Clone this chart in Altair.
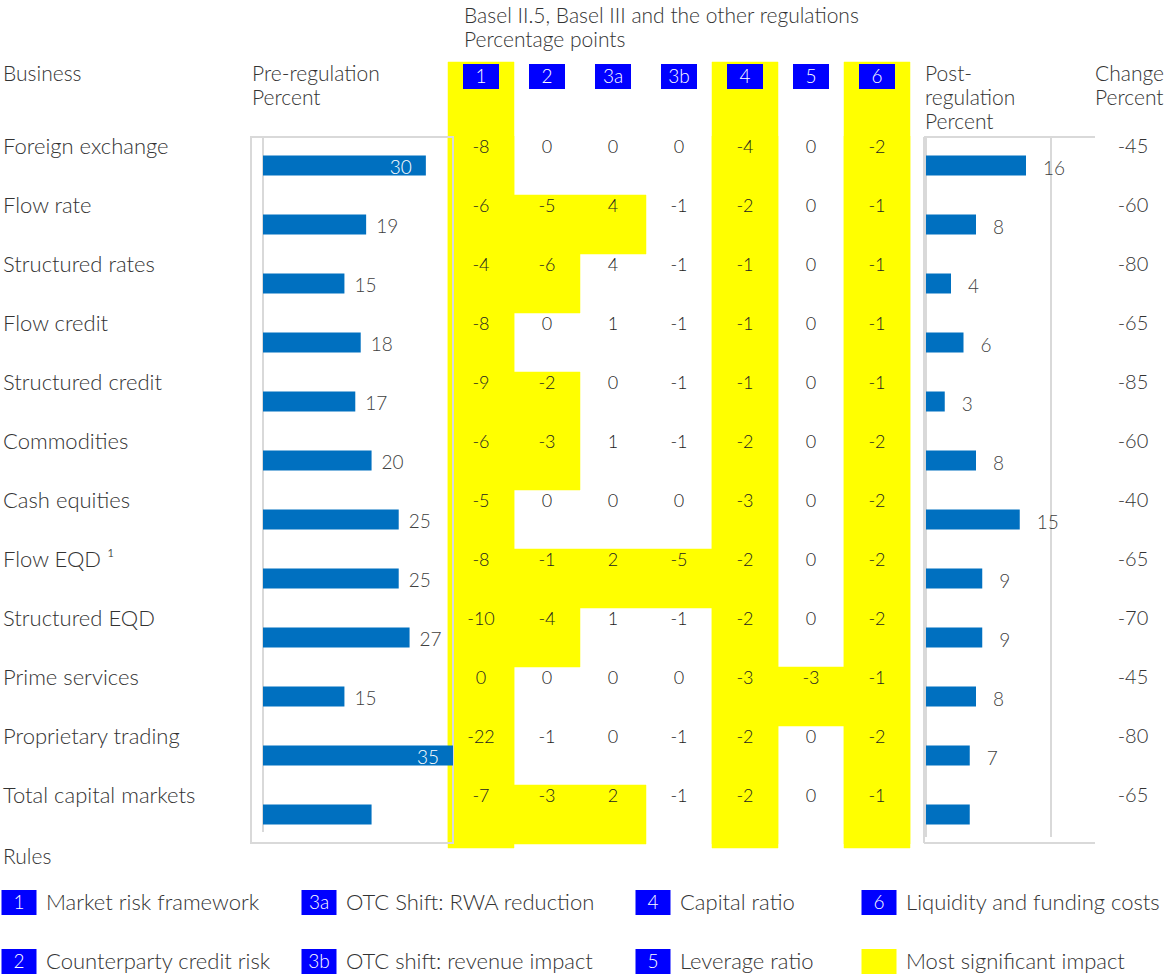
import altair as alt
import pandas as pd

# ---------------- data ----------------
businesses = [
    "Foreign exchange", "Flow rate", "Structured rates", "Flow credit",
    "Structured credit", "Commodities", "Cash equities", "Flow EQD \u00b9",
    "Structured EQD", "Prime services", "Proprietary trading",
    "Total capital markets",
]
pre_regulation = [30, 19, 15, 18, 17, 20, 25, 25, 27, 15, 35, 20]
post_regulation = [16, 8, 4, 6, 3, 8, 15, 9, 9, 8, 7, 7]
change_pct = [-45, -60, -80, -65, -85, -60, -40, -65, -70, -45, -80, -65]
show_label = [True] * 11 + [False]

rules = ["1", "2", "3a", "3b", "4", "5", "6"]
impact = [
    [-8, 0, 0, 0, -4, 0, -2],
    [-6, -5, 4, -1, -2, 0, -1],
    [-4, -6, 4, -1, -1, 0, -1],
    [-8, 0, 1, -1, -1, 0, -1],
    [-9, -2, 0, -1, -1, 0, -1],
    [-6, -3, 1, -1, -2, 0, -2],
    [-5, 0, 0, 0, -3, 0, -2],
    [-8, -1, 2, -5, -2, 0, -2],
    [-10, -4, 1, -1, -2, 0, -2],
    [0, 0, 0, 0, -3, -3, -1],
    [-22, -1, 0, -1, -2, 0, -2],
    [-7, -3, 2, -1, -2, 0, -1],
]
most_significant = [
    [1, 0, 0, 0, 1, 0, 1],
    [1, 1, 1, 0, 1, 0, 1],
    [1, 1, 0, 0, 1, 0, 1],
    [1, 0, 0, 0, 1, 0, 1],
    [1, 1, 0, 0, 1, 0, 1],
    [1, 1, 0, 0, 1, 0, 1],
    [1, 0, 0, 0, 1, 0, 1],
    [1, 1, 1, 1, 1, 0, 1],
    [1, 1, 0, 0, 1, 0, 1],
    [1, 0, 0, 0, 1, 1, 1],
    [1, 0, 0, 0, 1, 0, 1],
    [1, 1, 1, 0, 1, 0, 1],
]

legend_codes = ["1", "3a", "4", "6", "2", "3b", "5", ""]
legend_labels = [
    "Market risk framework", "OTC Shift: RWA reduction", "Capital ratio",
    "Liquidity and funding costs", "Counterparty credit risk",
    "OTC shift: revenue impact", "Leverage ratio", "Most significant impact",
]

# ---------------- styles ----------------
W, H = 1169, 974
FONT = "Lato"
WEIGHT = 300
TEXT = "#333333"
LABEL = "#404040"
BAR = "#0070C0"
BLUE = "#0000FF"
YELLOW = "#FFFF00"
FRAME = "#D9D9D9"

# ---------------- tables ----------------
rows_df = pd.DataFrame({
    "business": businesses,
    "pre": pre_regulation,
    "post": post_regulation,
    "change": [str(c) for c in change_pct],
    "show": show_label,
})
cells = []
for b, vals, hl in zip(businesses, impact, most_significant):
    for r, v, h in zip(rules, vals, hl):
        cells.append({"business": b, "rule": r, "value": str(v), "hl": h})
cells_df = pd.DataFrame(cells)
cols_df = pd.DataFrame({
    "rule": rules,
    "full": [all(row[j] for row in most_significant) for j in range(len(rules))],
})
legend_df = pd.DataFrame({
    "code": legend_codes,
    "label": legend_labels,
    "col": [i % 4 for i in range(len(legend_codes))],
    "row": [i // 4 for i in range(len(legend_codes))],
})
one = pd.DataFrame({"v": [0]})

# ---------------- scales ----------------
row_scale = alt.Scale(domain=businesses, range=[136, 844], paddingInner=0, paddingOuter=0)
bar_scale = alt.Scale(domain=businesses, range=[136, 844], paddingInner=0.661, paddingOuter=0.3305)
col_scale = alt.Scale(domain=rules, range=[448, 910], paddingInner=0, paddingOuter=0)
head_scale = alt.Scale(domain=rules, range=[448, 910], paddingInner=0.4545, paddingOuter=0.2273)
pre_scale = alt.Scale(domain=[0, 35], range=[263, 453], nice=False, zero=True)
post_scale = alt.Scale(domain=[0, 20], range=[926, 1051], nice=False, zero=True)
leg_x = alt.Scale(domain=[0, 1, 2, 3], range=[19, 319, 653, 879], nice=False, zero=False)
leg_y = alt.Scale(domain=[0, 1], range=[902.5, 961.5], nice=False, zero=False)

Y_ROW = alt.Y("business:N", scale=row_scale, axis=None)
Y_BAR = alt.Y("business:N", scale=bar_scale, axis=None)
X_COL = alt.X("rule:N", scale=col_scale, axis=None)

layers = []

# yellow highlights
layers.append(
    alt.Chart(cols_df).transform_filter("datum.full")
    .mark_rect(color=YELLOW, stroke=YELLOW, strokeWidth=0.5)
    .encode(x=X_COL, y=alt.value(62), y2=alt.value(848))
)
layers.append(
    alt.Chart(cells_df).transform_filter("datum.hl == 1")
    .mark_rect(color=YELLOW, stroke=YELLOW, strokeWidth=0.5)
    .encode(x=X_COL, y=Y_ROW)
)
# header boxes
layers.append(
    alt.Chart(cols_df).mark_rect(color=BLUE)
    .encode(x=alt.X("rule:N", scale=head_scale, axis=None), y=alt.value(64), y2=alt.value(89))
)
layers.append(
    alt.Chart(cols_df).mark_text(font=FONT, fontWeight=WEIGHT, fontSize=19, color="white", baseline="middle")
    .encode(x=X_COL, y=alt.value(77), text="rule:N")
)
# table numbers
layers.append(
    alt.Chart(cells_df).mark_text(font=FONT, fontWeight=WEIGHT, fontSize=18, color="#222222", baseline="middle", dy=-17.5)
    .encode(x=X_COL, y=Y_ROW, text="value:N")
)

# left panel frame + axis
layers.append(
    alt.Chart(one).mark_rect(fillOpacity=0, stroke=FRAME, strokeWidth=2)
    .encode(x=alt.value(251), x2=alt.value(453), y=alt.value(137), y2=alt.value(843))
)
layers.append(
    alt.Chart(one).mark_rule(color=FRAME, strokeWidth=2)
    .encode(x=alt.X("v:Q", scale=pre_scale, axis=None), y=alt.value(137), y2=alt.value(832))
)
layers.append(
    alt.Chart(rows_df).mark_bar(color=BAR)
    .encode(x=alt.X("pre:Q", scale=pre_scale, axis=None), y=Y_BAR)
)
layers.append(
    alt.Chart(rows_df).transform_filter("datum.show && datum.pre < 30")
    .mark_text(font=FONT, fontWeight=WEIGHT, fontSize=19, color=LABEL, align="left", baseline="middle", dx=10, dy=2)
    .encode(x=alt.X("pre:Q", scale=pre_scale, axis=None), y=Y_BAR, text="pre:Q")
)
layers.append(
    alt.Chart(rows_df).transform_filter("datum.show && datum.pre >= 30")
    .mark_text(font=FONT, fontWeight=WEIGHT, fontSize=19, color="white", align="right", baseline="middle", dx=-14, dy=2)
    .encode(x=alt.X("pre:Q", scale=pre_scale, axis=None), y=Y_BAR, text="pre:Q")
)

# right panel frame + grid
right_lines = pd.DataFrame({"v": [0, 20]})
layers.append(
    alt.Chart(one).mark_rule(color=FRAME, strokeWidth=2)
    .encode(x=alt.value(924), x2=alt.value(1095), y=alt.value(137))
)
layers.append(
    alt.Chart(one).mark_rule(color=FRAME, strokeWidth=2)
    .encode(x=alt.value(924), x2=alt.value(1095), y=alt.value(843))
)
layers.append(
    alt.Chart(one).mark_rule(color=FRAME, strokeWidth=2)
    .encode(x=alt.value(924), y=alt.value(137), y2=alt.value(843))
)
layers.append(
    alt.Chart(right_lines).mark_rule(color=FRAME, strokeWidth=2)
    .encode(x=alt.X("v:Q", scale=post_scale, axis=None), y=alt.value(137), y2=alt.value(837))
)
layers.append(
    alt.Chart(rows_df).mark_bar(color=BAR)
    .encode(x=alt.X("post:Q", scale=post_scale, axis=None), y=Y_BAR)
)
layers.append(
    alt.Chart(rows_df).transform_filter("datum.show")
    .mark_text(font=FONT, fontWeight=WEIGHT, fontSize=19, color=LABEL, align="left", baseline="middle", dx=17, dy=3)
    .encode(x=alt.X("post:Q", scale=post_scale, axis=None), y=Y_BAR, text="post:Q")
)

# row labels and change column
layers.append(
    alt.Chart(rows_df).mark_text(font=FONT, fontWeight=WEIGHT, fontSize=22, color=TEXT, align="left", baseline="middle", dy=-18.5)
    .encode(x=alt.value(3), y=Y_ROW, text="business:N")
)
layers.append(
    alt.Chart(rows_df).mark_text(font=FONT, fontWeight=WEIGHT, fontSize=20, color=TEXT, align="center", baseline="middle", dy=-18.5)
    .encode(x=alt.value(1133), y=Y_ROW, text="change:N")
)

# headers (one text per line)
headers = [
    ("Business", 3, 75),
    ("Pre-regulation", 252, 75),
    ("Percent", 252, 99),
    ("Basel II.5, Basel III and the other regulations", 464, 17),
    ("Percentage points", 464, 41),
    ("Post-", 925, 75),
    ("regulation", 925, 99),
    ("Percent", 925, 123),
    ("Change", 1095, 75),
    ("Percent", 1095, 99),
    ("Rules", 3, 858),
]
for txt, hx, hy in headers:
    layers.append(
        alt.Chart(pd.DataFrame({"t": [txt]}))
        .mark_text(font=FONT, fontWeight=WEIGHT, fontSize=21, color=TEXT, align="left", baseline="middle")
        .encode(x=alt.value(hx), y=alt.value(hy), text="t:N")
    )

# legend
layers.append(
    alt.Chart(legend_df).mark_rect(width=35, height=25)
    .encode(
        x=alt.X("col:Q", scale=leg_x, axis=None),
        y=alt.Y("row:Q", scale=leg_y, axis=None),
        color=alt.condition("datum.code == ''", alt.value(YELLOW), alt.value(BLUE)),
    )
)
layers.append(
    alt.Chart(legend_df).mark_text(font=FONT, fontWeight=WEIGHT, fontSize=19, color="white", baseline="middle")
    .encode(x=alt.X("col:Q", scale=leg_x, axis=None), y=alt.Y("row:Q", scale=leg_y, axis=None), text="code:N")
)
layers.append(
    alt.Chart(legend_df).mark_text(font=FONT, fontWeight=WEIGHT, fontSize=22, color=TEXT, align="left", baseline="middle", dx=27)
    .encode(x=alt.X("col:Q", scale=leg_x, axis=None), y=alt.Y("row:Q", scale=leg_y, axis=None), text="label:N")
)

chart = (
    alt.layer(*layers)
    .resolve_scale(x="independent", y="independent")
    .properties(width=W, height=H, autosize=alt.AutoSizeParams(type="none"), padding=0, background="white")
    .configure_view(stroke=None)
)

chart.save("out.html", embed_options={"renderer": "svg", "actions": False})
